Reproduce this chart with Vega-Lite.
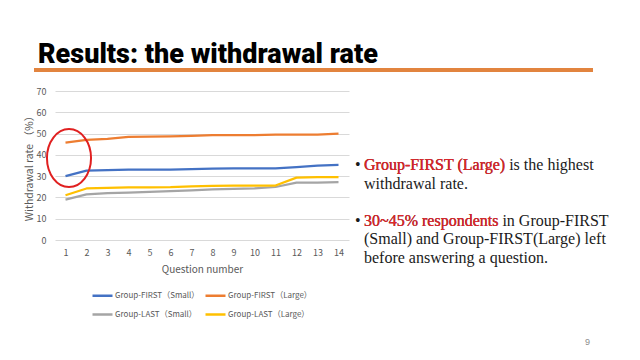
{
  "$schema": "https://vega.github.io/schema/vega-lite/v6.json",
  "padding": {"left": 24, "top": 0, "right": 0, "bottom": 0},
  "background": "white",
  "bounds": "flush",
  "spacing": 21,
  "config": {"view": {"stroke": null}, "font": "Noto Sans CJK JP"},
  "vconcat": [
    {
      "width": 583,
      "height": 70,
      "data": {"values": [{"title": "Results: the withdrawal rate"}]},
      "layer": [
        {
          "mark": {"type": "rule", "color": "#E2843F", "strokeWidth": 4},
          "encoding": {
            "x": {"datum": 0, "type": "quantitative", "scale": {"domain": [0, 1], "range": [-21, 538]}, "axis": null},
            "x2": {"datum": 1},
            "y": {"datum": 0, "type": "quantitative", "scale": {"domain": [0, 1]}, "axis": null}
          }
        },
        {
          "mark": {"type": "text", "align": "left", "baseline": "alphabetic", "dx": 4, "dy": -7, "font": "Roboto", "fontWeight": 900, "fontSize": 27, "color": "#000000"},
          "encoding": {
            "x": {"datum": 0, "type": "quantitative"},
            "y": {"datum": 0, "type": "quantitative"},
            "text": {"field": "title"}
          }
        }
      ]
    },
    {
      "width": 294,
      "height": 149,
      "layer": [
        {
          "encoding": {
            "x": {
              "field": "q", "type": "ordinal",
              "scale": {"type": "point", "padding": 0.5},
              "axis": {"title": "Question number", "labelAngle": 0, "ticks": false, "grid": false, "domain": false, "labelPadding": 8, "labelFontSize": 9, "labelColor": "#595959", "titleFontSize": 10, "titleFontWeight": "normal", "titleColor": "#595959", "titlePadding": 7}
            },
            "y": {
              "field": "v", "type": "quantitative",
              "scale": {"domain": [0, 70], "nice": false},
              "axis": {"title": "Withdrawal rate （%）", "values": [0, 10, 20, 30, 40, 50, 60, 70], "labelOverlap": false, "ticks": false, "domain": false, "gridColor": "#D9D9D9", "gridWidth": 1, "labelPadding": 9, "labelFontSize": 9, "labelColor": "#595959", "titleFontSize": 10.5, "titleFontWeight": "normal", "titleColor": "#595959", "titlePadding": 2}
            }
          },
          "layer": [
            {
              "data": {"values": [
                {"q": 1, "series": "Group-FIRST（Small）", "v": 30.0},
                {"q": 2, "series": "Group-FIRST（Small）", "v": 32.6},
                {"q": 3, "series": "Group-FIRST（Small）", "v": 32.8},
                {"q": 4, "series": "Group-FIRST（Small）", "v": 33.1},
                {"q": 5, "series": "Group-FIRST（Small）", "v": 33.1},
                {"q": 6, "series": "Group-FIRST（Small）", "v": 33.1},
                {"q": 7, "series": "Group-FIRST（Small）", "v": 33.3},
                {"q": 8, "series": "Group-FIRST（Small）", "v": 33.5},
                {"q": 9, "series": "Group-FIRST（Small）", "v": 33.7},
                {"q": 10, "series": "Group-FIRST（Small）", "v": 33.7},
                {"q": 11, "series": "Group-FIRST（Small）", "v": 33.7},
                {"q": 12, "series": "Group-FIRST（Small）", "v": 34.2},
                {"q": 13, "series": "Group-FIRST（Small）", "v": 34.9},
                {"q": 14, "series": "Group-FIRST（Small）", "v": 35.3},
                {"q": 1, "series": "Group-FIRST（Large）", "v": 45.8},
                {"q": 2, "series": "Group-FIRST（Large）", "v": 47.0},
                {"q": 3, "series": "Group-FIRST（Large）", "v": 47.5},
                {"q": 4, "series": "Group-FIRST（Large）", "v": 48.4},
                {"q": 5, "series": "Group-FIRST（Large）", "v": 48.6},
                {"q": 6, "series": "Group-FIRST（Large）", "v": 48.7},
                {"q": 7, "series": "Group-FIRST（Large）", "v": 48.9},
                {"q": 8, "series": "Group-FIRST（Large）", "v": 49.3},
                {"q": 9, "series": "Group-FIRST（Large）", "v": 49.3},
                {"q": 10, "series": "Group-FIRST（Large）", "v": 49.3},
                {"q": 11, "series": "Group-FIRST（Large）", "v": 49.5},
                {"q": 12, "series": "Group-FIRST（Large）", "v": 49.5},
                {"q": 13, "series": "Group-FIRST（Large）", "v": 49.5},
                {"q": 14, "series": "Group-FIRST（Large）", "v": 50.0},
                {"q": 1, "series": "Group-LAST（Small）", "v": 19.0},
                {"q": 2, "series": "Group-LAST（Small）", "v": 21.4},
                {"q": 3, "series": "Group-LAST（Small）", "v": 22.0},
                {"q": 4, "series": "Group-LAST（Small）", "v": 22.3},
                {"q": 5, "series": "Group-LAST（Small）", "v": 22.6},
                {"q": 6, "series": "Group-LAST（Small）", "v": 23.0},
                {"q": 7, "series": "Group-LAST（Small）", "v": 23.3},
                {"q": 8, "series": "Group-LAST（Small）", "v": 23.8},
                {"q": 9, "series": "Group-LAST（Small）", "v": 24.0},
                {"q": 10, "series": "Group-LAST（Small）", "v": 24.2},
                {"q": 11, "series": "Group-LAST（Small）", "v": 24.9},
                {"q": 12, "series": "Group-LAST（Small）", "v": 27.0},
                {"q": 13, "series": "Group-LAST（Small）", "v": 27.0},
                {"q": 14, "series": "Group-LAST（Small）", "v": 27.2},
                {"q": 1, "series": "Group-LAST（Large）", "v": 21.0},
                {"q": 2, "series": "Group-LAST（Large）", "v": 24.2},
                {"q": 3, "series": "Group-LAST（Large）", "v": 24.5},
                {"q": 4, "series": "Group-LAST（Large）", "v": 24.7},
                {"q": 5, "series": "Group-LAST（Large）", "v": 24.7},
                {"q": 6, "series": "Group-LAST（Large）", "v": 24.8},
                {"q": 7, "series": "Group-LAST（Large）", "v": 25.2},
                {"q": 8, "series": "Group-LAST（Large）", "v": 25.4},
                {"q": 9, "series": "Group-LAST（Large）", "v": 25.6},
                {"q": 10, "series": "Group-LAST（Large）", "v": 25.6},
                {"q": 11, "series": "Group-LAST（Large）", "v": 25.6},
                {"q": 12, "series": "Group-LAST（Large）", "v": 29.3},
                {"q": 13, "series": "Group-LAST（Large）", "v": 29.5},
                {"q": 14, "series": "Group-LAST（Large）", "v": 29.5}
              ]},
              "mark": {"type": "line", "strokeWidth": 2.25, "strokeJoin": "round"},
              "encoding": {
                "color": {
                  "field": "series", "type": "nominal",
                  "scale": {"domain": ["Group-FIRST（Small）", "Group-FIRST（Large）", "Group-LAST（Small）", "Group-LAST（Large）"], "range": ["#4472C4", "#ED7D31", "#A5A5A5", "#FFC000"]},
                  "legend": {"title": null, "orient": "none", "legendX": 36, "legendY": 284, "direction": "horizontal", "columns": 2, "symbolType": "stroke", "symbolSize": 400, "symbolStrokeWidth": 2.5, "labelFontSize": 8, "labelColor": "#595959", "rowPadding": 2, "columnPadding": 0, "labelOffset": 1}
                }
              }
            },
            {
              "data": {"values": [{"q": 1, "v": 38.5}]},
              "mark": {"type": "point", "shape": "M 0 -1 C 0.4197 -1 0.76 -0.5523 0.76 0 C 0.76 0.5523 0.4197 1 0 1 C -0.4197 1 -0.76 0.5523 -0.76 0 C -0.76 -0.5523 -0.4197 -1 0 -1 Z", "size": 3364, "filled": false, "stroke": "#E02020", "strokeWidth": 2, "opacity": 1, "xOffset": 3.5}
            }
          ]
        },
        {
          "data": {"values": [
            {"line": 0, "indent": 0, "text": "•", "emphasis": "no"},
            {"line": 0, "indent": 1, "text": "Group-FIRST (Large) is the highest", "emphasis": "no"},
            {"line": 0, "indent": 1, "text": "Group-FIRST (Large)", "emphasis": "red"},
            {"line": 1, "indent": 1, "text": "withdrawal rate.", "emphasis": "no"},
            {"line": 3, "indent": 0, "text": "•", "emphasis": "no"},
            {"line": 3, "indent": 1, "text": "30~45% respondents in Group-FIRST", "emphasis": "no"},
            {"line": 3, "indent": 1, "text": "30~45% respondents", "emphasis": "red"},
            {"line": 4, "indent": 1, "text": "(Small) and Group-FIRST(Large) left", "emphasis": "no"},
            {"line": 5, "indent": 1, "text": "before answering a question.", "emphasis": "no"}
          ]},
          "encoding": {
            "x": {"field": "indent", "type": "quantitative", "scale": {"domain": [0, 1], "range": [300, 309]}, "axis": null},
            "y": {"field": "line", "type": "quantitative", "scale": {"domain": [0, 5], "range": [79, 171.5]}, "axis": null},
            "text": {"field": "text"}
          },
          "layer": [
            {
              "transform": [{"filter": "datum.emphasis == 'no'"}],
              "mark": {"type": "text", "align": "left", "baseline": "alphabetic", "font": "Liberation Serif", "fontSize": 16, "color": "#1a1a1a"}
            },
            {
              "transform": [{"filter": "datum.emphasis == 'red'"}],
              "mark": {"type": "text", "align": "left", "baseline": "alphabetic", "font": "Liberation Serif", "fontSize": 16, "color": "#E0262B", "stroke": "#E0262B", "strokeWidth": 0.2}
            }
          ]
        }
      ],
      "resolve": {"scale": {"x": "independent", "y": "independent"}, "axis": {"x": "independent", "y": "independent"}}
    },
    {
      "width": 583,
      "height": 74,
      "data": {"values": [{}]},
      "mark": {"type": "point", "opacity": 0},
      "title": {"text": "9", "orient": "bottom", "anchor": "end", "offset": 3, "dx": -48, "fontSize": 9, "fontWeight": "normal", "color": "#8c8c8c", "font": "Liberation Sans"}
    }
  ]
}
